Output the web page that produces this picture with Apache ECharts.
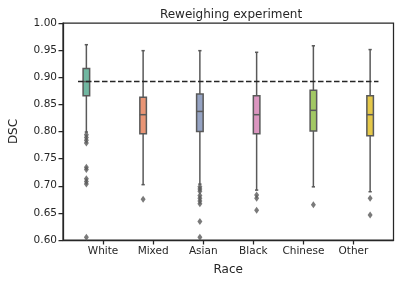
<!DOCTYPE html>
<html>
<head>
<meta charset="utf-8">
<script src="https://cdn.jsdelivr.net/npm/echarts@6/dist/echarts.min.js"></script>
<style>html,body{margin:0;padding:0;background:#fff}#c{width:400px;height:284px}</style>
</head>
<body>
<div id="c"></div>
<script>
const categories = ['White', 'Mixed', 'Asian', 'Black', 'Chinese', 'Other'];
const whiskerLow  = [0.799, 0.702, 0.703, 0.692, 0.698, 0.689];
const q1          = [0.866, 0.796, 0.800, 0.796, 0.801, 0.792];
const median      = [0.892, 0.831, 0.837, 0.831, 0.839, 0.831];
const q3          = [0.916, 0.863, 0.869, 0.866, 0.876, 0.866];
const whiskerHigh = [0.960, 0.949, 0.949, 0.946, 0.958, 0.951];
const outliers = [
  [0.794, 0.789, 0.784, 0.779, 0.734, 0.730, 0.713, 0.708, 0.703, 0.605],
  [0.675],
  [0.698, 0.694, 0.690, 0.682, 0.677, 0.672, 0.667, 0.634, 0.605],
  [0.683, 0.677, 0.655],
  [0.665],
  [0.677, 0.646]
];
const referenceLine = 0.892;
const yTicks = [0.60, 0.65, 0.70, 0.75, 0.80, 0.85, 0.90, 0.95, 1.00];

const colors = ['#71b7a1', '#e99575', '#95a3c3', '#db96c0', '#a2c864', '#e5c849'];
const edge = '#595959';
const nHue = categories.length;
const slot = 0.8 / nHue;
const boxW = slot * 0.98;
const offset = i => (i - (nHue - 1) / 2) * slot;

const boxData = categories.map((c, i) => [i + offset(i), whiskerLow[i], q1[i], median[i], q3[i], whiskerHigh[i], i]);
const outlierSeries = outliers.map((arr, i) => ({
  type: 'scatter',
  data: arr.map(v => [i + offset(i), v]),
  symbol: 'diamond',
  symbolSize: [5, 7],
  itemStyle: { color: edge },
  z: 3,
  silent: true
}));

const chart = echarts.init(document.getElementById('c'), null, { renderer: 'canvas' });
const font = 'DejaVu Sans';
chart.setOption({
  animation: false,
  backgroundColor: '#ffffff',
  title: {
    text: 'Reweighing experiment',
    left: 226, textAlign: 'center', top: 4,
    textStyle: { fontFamily: font, fontSize: 12, fontWeight: 'normal', color: '#262626' }
  },
  grid: { left: 58.5, top: 23, width: 335, height: 217, show: true, borderColor: '#262626', borderWidth: 1.25, backgroundColor: 'transparent' },
  xAxis: {
    type: 'value', min: -0.8, max: 5.8,
    name: 'Race', nameLocation: 'middle', nameGap: 24,
    nameTextStyle: { fontFamily: font, fontSize: 12, color: '#262626' },
    axisLine: { show: true, onZero: false, lineStyle: { color: '#262626', width: 1.25 } },
    axisTick: { show: true, length: 4.5, customValues: categories.map((c, i) => i), lineStyle: { color: '#262626', width: 1.25 } },
    axisLabel: { customValues: categories.map((c, i) => i), formatter: v => categories[Math.round(v)], fontFamily: font, fontSize: 10.5, color: '#262626', margin: 6 },
    splitLine: { show: false }
  },
  yAxis: {
    type: 'value', min: 0.6, max: 1.0, interval: 0.05,
    name: 'DSC', nameLocation: 'middle', nameGap: 43,
    nameTextStyle: { fontFamily: font, fontSize: 12, color: '#262626' },
    axisLine: { show: true, onZero: false, lineStyle: { color: '#262626', width: 1.25 } },
    axisTick: { show: true, length: 4.5, lineStyle: { color: '#262626', width: 1.25 } },
    axisLabel: { formatter: v => v.toFixed(2), fontFamily: font, fontSize: 10.5, color: '#262626', margin: 6 },
    splitLine: { show: false }
  },
  series: [
    {
      type: 'custom',
      data: boxData,
      z: 2,
      silent: true,
      renderItem: function (params, api) {
        const x = api.value(0);
        const idx = api.value(6);
        const pLow = api.coord([x, api.value(1)]);
        const pQ1 = api.coord([x, api.value(2)]);
        const pMed = api.coord([x, api.value(3)]);
        const pQ3 = api.coord([x, api.value(4)]);
        const pHigh = api.coord([x, api.value(5)]);
        const halfW = (api.coord([x + boxW / 2, 0.6])[0] - api.coord([x, 0.6])[0]);
        const capW = halfW / 2;
        const ls = { stroke: edge, lineWidth: 1.5 };
        return {
          type: 'group',
          children: [
            { type: 'line', shape: { x1: pLow[0], y1: pLow[1], x2: pQ1[0], y2: pQ1[1] }, style: ls },
            { type: 'line', shape: { x1: pQ3[0], y1: pQ3[1], x2: pHigh[0], y2: pHigh[1] }, style: ls },
            { type: 'line', shape: { x1: pLow[0] - capW, y1: pLow[1], x2: pLow[0] + capW, y2: pLow[1] }, style: ls },
            { type: 'line', shape: { x1: pHigh[0] - capW, y1: pHigh[1], x2: pHigh[0] + capW, y2: pHigh[1] }, style: ls },
            { type: 'rect', shape: { x: pQ3[0] - halfW, y: pQ3[1], width: halfW * 2, height: pQ1[1] - pQ3[1] }, style: { fill: colors[idx], stroke: edge, lineWidth: 1.5 } },
            { type: 'line', shape: { x1: pMed[0] - halfW, y1: pMed[1], x2: pMed[0] + halfW, y2: pMed[1] }, style: ls }
          ]
        };
      }
    },
    ...outlierSeries,
    {
      type: 'line',
      data: [[-0.5, referenceLine], [5.5, referenceLine]],
      symbol: 'none',
      lineStyle: { color: '#262626', width: 1.5, type: [5.5, 2.5] },
      z: 4,
      silent: true
    }
  ]
});
</script>
</body>
</html>
